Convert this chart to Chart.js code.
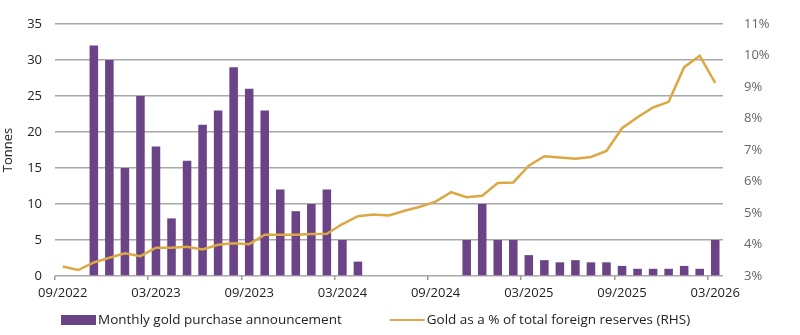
<!DOCTYPE html>
<html>
<head>
<meta charset="utf-8">
<title>Gold purchases</title>
<script src="https://cdn.jsdelivr.net/npm/chart.js@4.4.1/dist/chart.umd.min.js"></script>
<style>
    body { margin: 0; background: #fff; }
</style>
</head>
<body>
<canvas id="goldChart" width="800" height="335"></canvas>
<script>
// DATA
const months = [
    "09/2022", "10/2022", "11/2022", "12/2022",
    "01/2023", "02/2023", "03/2023", "04/2023", "05/2023", "06/2023",
    "07/2023", "08/2023", "09/2023", "10/2023", "11/2023", "12/2023",
    "01/2024", "02/2024", "03/2024", "04/2024", "05/2024", "06/2024",
    "07/2024", "08/2024", "09/2024", "10/2024", "11/2024", "12/2024",
    "01/2025", "02/2025", "03/2025", "04/2025", "05/2025", "06/2025",
    "07/2025", "08/2025", "09/2025", "10/2025", "11/2025", "12/2025",
    "01/2026", "02/2026", "03/2026"
];

const tickLabels = ["09/2022", "03/2023", "09/2023", "03/2024", "09/2024", "03/2025", "09/2025", "03/2026"];

// tonnes announced each month (null = no announcement)
const purchases = [
    null, null, 32, 30,
    15, 25, 18, 8, 16, 21,
    23, 29, 26, 23, 12, 9,
    10, 12, 5, 2, null, null,
    null, null, null, null, 5, 10,
    5, 5, 2.9, 2.2, 1.9, 2.2,
    1.9, 1.9, 1.4, 1.0, 1.0, 1.0,
    1.4, 1.0, 5
];

// gold share of total foreign reserves, %
const goldShare = [
    3.30, 3.19, 3.43, 3.58,
    3.72, 3.63, 3.90, 3.90, 3.93, 3.84,
    3.99, 4.04, 4.01, 4.31, 4.31, 4.31,
    4.33, 4.34, 4.65, 4.90, 4.95, 4.92,
    5.07, 5.20, 5.36, 5.66, 5.50, 5.55,
    5.95, 5.97, 6.50, 6.80, 6.76, 6.72,
    6.78, 6.97, 7.69, 8.04, 8.35, 8.53,
    9.63, 9.99, 9.13
];

const PURPLE = "#6b4387";
const GOLD = "#dba843";
const GRID = "#a8a8a8";
const FONT = "'Open Sans', 'Noto Sans', sans-serif";

// LEGEND (drawn under the axis, left aligned)
const bottomLegend = {
    id: "bottomLegend",
    afterDraw(chart) {
        const ctx = chart.ctx;
        const y = 320;
        let x = 61;
        ctx.save();
        ctx.font = "13.5px " + FONT;
        ctx.textBaseline = "middle";
        chart.data.datasets.forEach(ds => {
            if (ds.type === "line") {
                ctx.strokeStyle = ds.borderColor;
                ctx.lineWidth = 2;
                ctx.beginPath();
                ctx.moveTo(x, y);
                ctx.lineTo(x + 35, y);
                ctx.stroke();
            } else {
                ctx.fillStyle = ds.backgroundColor;
                ctx.fillRect(x, y - 5, 35, 10);
            }
            x += 37;
            ctx.fillStyle = "#222";
            ctx.fillText(ds.label, x, y);
            x += ctx.measureText(ds.label).width + 48;
        });
        ctx.restore();
    }
};

// CHART
const ctx = document.getElementById("goldChart").getContext("2d");
new Chart(ctx, {
    data: {
        labels: months,
        datasets: [
            {
                type: "bar",
                label: "Monthly gold purchase announcement",
                data: purchases,
                backgroundColor: PURPLE,
                borderWidth: 0,
                categoryPercentage: 1,
                barPercentage: 0.55,
                yAxisID: "y",
                order: 1
            },
            {
                type: "line",
                label: "Gold as a % of total foreign reserves (RHS)",
                data: goldShare,
                borderColor: GOLD,
                borderWidth: 2.5,
                pointRadius: 0,
                tension: 0,
                yAxisID: "y2",
                order: 0
            }
        ]
    },
    options: {
        responsive: false,
        animation: false,
        devicePixelRatio: 1,
        layout: { padding: { top: 24, bottom: 33, left: 0, right: 0 } },
        plugins: {
            legend: { display: false },
            tooltip: { enabled: false }
        },
        scales: {
            x: {
                offset: true,
                grid: {
                    offset: true,
                    drawOnChartArea: false,
                    drawTicks: true,
                    tickLength: 4,
                    lineWidth: 1.5,
                    tickColor: (c) => (c.index % 6 === 0 ? "#999" : "transparent")
                },
                border: { display: false },
                ticks: {
                    autoSkip: false,
                    maxRotation: 0,
                    padding: 5,
                    color: "#222",
                    font: { family: FONT, size: 13 },
                    callback: function (value, index) {
                        const label = months[index];
                        return tickLabels.includes(label) ? label : "";
                    }
                },
                afterFit: (scale) => { scale.height = 26; }
            },
            y: {
                position: "left",
                min: 0,
                max: 35,
                grid: {
                    color: GRID,
                    lineWidth: 1.5,
                    drawTicks: false
                },
                border: { display: false },
                ticks: {
                    stepSize: 5,
                    padding: 13,
                    color: "#222",
                    font: { family: FONT, size: 13 }
                },
                title: {
                    display: true,
                    text: "Tonnes",
                    color: "#222",
                    padding: 0,
                    font: { family: FONT, size: 13 }
                },
                afterFit: (scale) => { scale.width = 55; }
            },
            y2: {
                position: "right",
                min: 3,
                max: 11,
                grid: { display: false, drawOnChartArea: false },
                border: { display: false },
                ticks: {
                    stepSize: 1,
                    padding: 13,
                    color: "#666",
                    font: { family: FONT, size: 13 },
                    callback: (v) => v + "%"
                },
                afterFit: (scale) => { scale.width = 77; }
            }
        }
    },
    plugins: [bottomLegend]
});
</script>
</body>
</html>
